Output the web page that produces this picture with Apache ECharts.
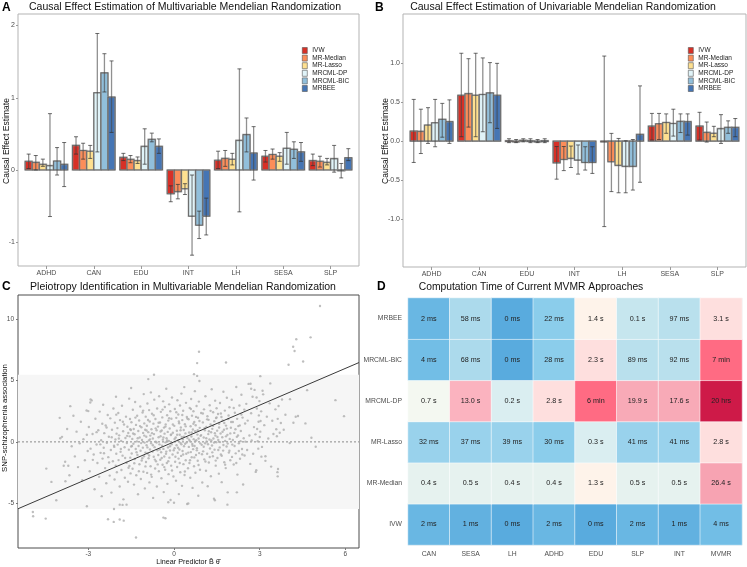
<!DOCTYPE html>
<html><head><meta charset="utf-8">
<script src="https://cdn.jsdelivr.net/npm/echarts@6/dist/echarts.min.js"></script>
<style>html,body{margin:0;padding:0;background:#fff}#c{width:747px;height:567px}</style>
</head><body><div id="c"></div>
<script>
// ---------------- DATA ----------------
const methods = ['IVW','MR-Median','MR-Lasso','MRCML-DP','MRCML-BIC','MRBEE'];
const methodColors = ['#D73027','#FC8D59','#FEE090','#E0F3F8','#91BFDB','#4575B4'];
const traits = ['ADHD','CAN','EDU','INT','LH','SESA','SLP'];

// Panel A: multivariable MR (rows = methods, cols = traits)
const mvEst = [
  [0.12, 0.34, 0.175, -0.33, 0.135, 0.19, 0.13],
  [0.105, 0.27, 0.147, -0.30, 0.16, 0.215, 0.12],
  [0.078, 0.26, 0.13, -0.26, 0.148, 0.19, 0.105],
  [0.06, 1.07, 0.327, -0.64, 0.41, 0.30, 0.157],
  [0.124, 1.345, 0.424, -0.765, 0.49, 0.286, -0.01],
  [0.078, 1.01, 0.327, -0.64, 0.235, 0.25, 0.17]
];
const mvLow = [
  [0.02, 0.22, 0.13, -0.44, 0.02, 0.11, 0.06],
  [0.0, 0.15, 0.10, -0.40, 0.05, 0.15, 0.04],
  [0.05, 0.16, 0.09, -0.34, 0.07, 0.12, 0.07],
  [-0.645, 0.25, 0.08, -1.18, -0.58, 0.08, -0.03],
  [-0.07, 1.08, 0.39, -0.95, 0.25, 0.16, -0.11],
  [-0.23, 0.52, 0.23, -0.90, -0.14, 0.12, 0.13]
];
const mvHigh = [
  [0.22, 0.46, 0.23, -0.22, 0.26, 0.27, 0.22],
  [0.20, 0.37, 0.20, -0.20, 0.27, 0.29, 0.19],
  [0.15, 0.34, 0.18, -0.19, 0.23, 0.24, 0.16],
  [0.78, 1.89, 0.57, -0.07, 1.40, 0.52, 0.34],
  [0.31, 1.61, 0.51, -0.57, 0.72, 0.39, 0.09],
  [0.38, 1.51, 0.43, -0.39, 0.60, 0.38, 0.295]
];

// Panel B: univariable MR
const uvEst = [
  [0.129, 0.59, 0.005, -0.28, -0.005, 0.193, 0.193],
  [0.125, 0.61, 0.0, -0.236, -0.266, 0.223, 0.112],
  [0.206, 0.59, 0.01, -0.223, -0.313, 0.24, 0.10],
  [0.236, 0.60, 0.005, -0.245, -0.326, 0.227, 0.16],
  [0.28, 0.62, 0.0, -0.275, -0.326, 0.253, 0.176],
  [0.25, 0.59, 0.005, -0.275, 0.086, 0.25, 0.176]
];
const uvLow = [
  [-0.275, 0.056, -0.02, -0.49, -1.10, 0.013, 0.013],
  [-0.16, 0.18, -0.02, -0.38, -0.65, 0.02, -0.013],
  [-0.03, 0.056, -0.01, -0.34, -0.665, 0.10, 0.056],
  [-0.073, 0.12, -0.02, -0.425, -0.665, 0.064, -0.03],
  [0.05, 0.236, -0.02, -0.373, -0.63, 0.11, 0.10],
  [-0.03, 0.163, -0.02, -0.416, -0.53, 0.077, 0.056]
];
const uvHigh = [
  [0.536, 1.13, 0.03, -0.07, 1.094, 0.356, 0.37],
  [0.41, 1.06, 0.02, -0.07, 0.099, 0.356, 0.245],
  [0.43, 1.13, 0.03, -0.064, 0.034, 0.35, 0.19],
  [0.536, 1.07, 0.03, -0.05, 0.004, 0.41, 0.34],
  [0.485, 1.01, 0.02, -0.073, 0.02, 0.35, 0.26],
  [0.53, 1.0, 0.03, -0.073, 0.71, 0.35, 0.29]
];

// Panel C: SNP-level pleiotropy scatter (linear predictor, SNP-schizophrenia association)
const pleioPoints = [
[-3.92,0.41],[-3.81,-1.62],[-3.74,1.05],[-3.66,-2.71],[-3.58,-0.35],[-3.52,2.12],
[-3.47,-1.18],[-3.41,0.83],[-3.36,-2.05],[-3.3,-0.12],[-3.26,1.64],[-3.21,-3.12],[-3.17,0.22],[-3.12,-1.49],[-3.06,2.55],[-3.02,-0.74],
[-2.98,1.21],[-2.95,-2.38],[-2.92,-0.55],[-2.88,3.37],[-2.85,0.64],[-2.81,-1.02],[-2.78,-3.85],[-2.75,1.88],[-2.71,-0.21],[-2.68,-1.71],[-2.65,0.95],[-2.62,-2.84],[-2.6,2.46],[-2.57,-0.89],[-2.55,0.13],[-2.53,-4.41],[-2.51,1.47],[-2.5,-1.36],
[-2.48,3.02],[-2.46,-0.48],[-2.44,0.71],[-2.41,-2.13],[-2.39,1.33],[-2.37,-3.36],[-2.35,-0.07],[-2.32,2.18],[-2.3,-1.24],[-2.28,0.42],[-2.25,-2.74],[-2.23,1.91],[-2.21,-0.66],[-2.19,-4.12],[-2.17,0.98],[-2.14,-1.57],[-2.12,2.71],[-2.1,-0.31],[-2.08,-3.05],[-2.07,1.56],[-2.05,0.19],[-2.04,-1.93],[-2.03,3.66],[-2.02,-0.97],[-2.01,0.67],[-2.0,-2.47],
[-1.98,1.12],[-1.97,-0.22],[-1.95,2.34],[-1.94,-1.48],[-1.92,0.53],[-1.9,-3.62],[-1.89,1.77],[-1.87,-0.81],[-1.85,0.08],[-1.84,-2.29],[-1.82,2.93],[-1.8,-1.12],[-1.78,0.86],[-1.77,-4.67],[-1.75,1.41],[-1.73,-0.44],[-1.72,-2.91],[-1.7,0.31],[-1.68,2.05],[-1.66,-1.7],[-1.65,-0.09],[-1.63,1.23],[-1.61,-3.24],[-1.6,0.72],[-1.58,-0.63],[-1.57,3.51],[-1.56,-1.95],[-1.55,0.45],[-1.54,1.86],[-1.53,-1.28],[-1.52,-2.56],[-1.51,0.97],[-1.5,-0.37],[-1.5,4.38],
[-1.49,1.6],[-1.48,-0.94],[-1.46,0.24],[-1.45,-2.18],[-1.44,2.61],[-1.42,-0.15],[-1.41,1.05],[-1.4,-3.47],[-1.38,0.62],[-1.37,-1.39],[-1.36,3.24],[-1.34,-0.58],[-1.33,1.38],[-1.32,-2.71],[-1.3,0.04],[-1.29,2.12],[-1.28,-1.06],[-1.26,-4.26],[-1.25,0.88],[-1.24,-0.33],[-1.22,1.74],[-1.21,-1.82],[-1.2,0.36],[-1.18,2.87],[-1.17,-0.72],[-1.16,-3.01],[-1.14,1.19],[-1.13,-1.51],[-1.12,0.15],[-1.1,2.39],[-1.09,-0.47],[-1.08,0.73],[-1.07,-2.43],[-1.06,3.88],[-1.05,-1.17],[-1.04,1.5],[-1.03,-0.06],[-1.02,-3.78],[-1.01,0.98],[-1.0,-0.87],
[-0.99,2.05],[-0.98,-1.64],[-0.97,0.42],[-0.96,-0.28],[-0.95,1.31],[-0.94,-2.52],[-0.93,3.12],[-0.92,-0.95],[-0.9,0.79],[-0.89,-1.33],[-0.88,0.11],[-0.87,2.58],[-0.86,-3.29],[-0.85,1.66],[-0.84,-0.61],[-0.83,0.51],[-0.82,-1.98],[-0.81,4.02],[-0.8,-0.12],[-0.79,1.02],[-0.78,-2.84],[-0.77,2.29],[-0.75,-0.79],[-0.74,0.27],[-0.73,-4.55],[-0.72,1.48],[-0.71,-1.21],[-0.7,0.63],[-0.69,3.43],[-0.68,-0.43],[-0.66,-2.16],[-0.65,1.86],[-0.64,0.02],[-0.63,-1.57],[-0.61,0.94],[-0.6,-3.63],[-0.59,2.71],[-0.58,-0.68],[-0.56,1.24],[-0.55,-1.07],[-0.54,0.38],[-0.53,-2.39],[-0.52,3.7],[-0.51,-0.2],
[-0.49,1.57],[-0.48,-1.45],[-0.47,0.46],[-0.46,2.44],[-0.45,-0.84],[-0.44,-2.95],[-0.43,0.93],[-0.42,-0.31],[-0.41,1.99],[-0.4,-1.86],[-0.39,0.18],[-0.38,3.29],[-0.37,-0.57],[-0.36,-4.08],[-0.35,1.16],[-0.34,-1.19],[-0.33,0.67],[-0.32,2.83],[-0.31,-2.27],[-0.3,-0.04],[-0.29,1.42],[-0.28,-0.96],[-0.27,4.31],[-0.26,0.29],[-0.25,-1.71],[-0.24,2.16],[-0.23,-3.41],[-0.22,0.81],[-0.21,-0.45],[-0.2,1.73],[-0.19,-2.62],[-0.18,0.07],[-0.17,3.05],[-0.16,-1.28],[-0.15,1.09],[-0.14,-0.7],[-0.13,2.49],[-0.12,-4.72],[-0.11,0.55],[-0.1,-1.93],[-0.09,1.88],[-0.08,-0.19],[-0.07,3.61],[-0.05,-1.03],[-0.04,0.74],[-0.02,-2.81],
[0.01,1.3],[0.02,-0.51],[0.03,2.67],[0.04,-1.62],[0.06,0.36],[0.07,-3.15],[0.08,1.95],[0.09,-0.27],[0.1,0.9],[0.11,-2.04],[0.12,3.38],[0.13,-0.88],[0.14,0.12],[0.15,2.22],[0.16,-1.36],[0.17,-4.24],[0.18,1.51],[0.19,-0.62],[0.2,0.58],[0.21,2.95],[0.22,-2.47],[0.23,-0.09],[0.24,1.17],[0.25,-1.14],[0.26,3.92],[0.27,0.41],[0.28,-3.57],[0.29,1.77],[0.3,-0.74],[0.31,0.2],[0.32,2.53],[0.33,-1.81],[0.34,0.97],[0.35,-0.36],[0.36,4.45],[0.37,-2.69],[0.38,1.43],[0.39,-0.15],[0.4,0.69],[0.41,-1.49],[0.42,3.17],[0.43,-0.97],[0.45,2.02],[0.46,-5.05],[0.47,0.31],[0.49,-2.14],
[0.51,1.84],[0.52,-0.41],[0.53,0.76],[0.54,-1.71],[0.55,2.76],[0.56,0.05],[0.57,-2.92],[0.58,1.27],[0.59,-0.83],[0.6,3.48],[0.61,0.44],[0.62,-1.25],[0.63,2.13],[0.64,-0.17],[0.65,-3.74],[0.66,1.01],[0.67,-0.59],[0.68,2.49],[0.69,0.22],[0.7,-1.98],[0.71,1.62],[0.72,-0.33],[0.73,4.12],[0.74,0.87],[0.75,-2.51],[0.76,1.35],[0.77,-1.06],[0.78,0.13],[0.79,2.91],[0.8,-0.69],[0.81,5.36],[0.82,0.59],[0.83,-1.53],[0.84,1.96],[0.85,-4.38],[0.86,0.28],[0.87,3.27],[0.88,-0.91],[0.9,1.14],[0.91,-2.27],[0.93,0.49],[0.95,2.35],[0.97,-0.24],[0.99,-3.3],
[1.01,1.58],[1.02,-0.77],[1.04,0.35],[1.05,2.64],[1.06,-1.42],[1.08,0.95],[1.09,-0.11],[1.1,3.71],[1.12,-2.35],[1.13,1.22],[1.14,0.04],[1.16,-0.96],[1.17,2.08],[1.18,-3.61],[1.2,0.63],[1.21,1.79],[1.22,-1.68],[1.24,0.19],[1.25,2.97],[1.26,-0.54],[1.28,1.41],[1.29,-2.79],[1.3,0.78],[1.32,4.28],[1.33,-0.29],[1.34,1.06],[1.36,-1.17],[1.37,2.41],[1.38,0.27],[1.4,-4.62],[1.41,1.67],[1.42,-0.63],[1.44,3.35],[1.45,0.51],[1.46,-1.93],[1.47,1.93],[1.48,-0.03],[1.49,2.73],
[1.51,0.91],[1.52,-1.31],[1.54,2.26],[1.55,0.16],[1.57,-2.58],[1.58,1.47],[1.6,-0.45],[1.61,3.16],[1.63,0.68],[1.64,-1.02],[1.66,2.02],[1.67,-3.27],[1.69,0.37],[1.7,1.74],[1.72,-0.71],[1.73,4.07],[1.75,0.99],[1.76,-1.66],[1.78,2.54],[1.79,0.08],[1.81,-2.13],[1.82,1.32],[1.84,-0.38],[1.85,3.58],[1.87,0.57],[1.88,-4.1],[1.9,1.86],[1.92,-0.87],[1.94,2.81],[1.95,0.24],[1.97,-1.49],[1.99,1.15],
[2.02,3.42],[2.04,-0.22],[2.06,1.61],[2.09,-1.84],[2.11,0.73],[2.13,2.37],[2.16,-0.93],[2.18,4.46],[2.2,0.41],[2.22,-2.66],[2.25,1.28],[2.27,-0.12],[2.29,2.95],[2.31,-1.37],[2.34,0.88],[2.36,3.83],[2.38,-0.58],[2.4,1.97],[2.42,-3.46],[2.44,0.3],[2.46,2.62],[2.47,-1.11],[2.49,1.49],[2.5,0.02],
[2.53,3.09],[2.56,-0.66],[2.58,1.73],[2.61,4.71],[2.64,0.52],[2.67,-1.79],[2.7,2.33],[2.72,0.11],[2.75,3.67],[2.77,-0.97],[2.8,1.2],[2.82,4.22],[2.85,0.61],[2.88,-2.31],[2.9,2.71],[2.93,0.05],[2.96,1.63],[2.99,3.31],
[2.91,1.05],[2.95,-0.55],[2.97,2.15],[3.0,0.4],[3.03,1.7],[3.06,-1.2],[2.89,3.6],[3.1,4.15],
[3.02,0.83],[3.05,2.48],[3.08,-0.41],[3.12,3.86],[3.16,1.36],[3.2,-1.17],[3.25,2.05],[3.3,0.27],[3.35,3.13],[3.4,-2.01],[3.44,1.72],[3.48,0.64],
[3.55,2.64],[3.58,1.02],[3.6,0.46],[3.63,1.87],[3.66,2.91],[3.7,0.74],[3.74,1.53],[3.78,3.44],[3.84,0.98],[3.9,2.2],
[-1.93,0.27],[-1.86,-0.58],[-1.79,1.64],[-1.71,-1.31],[-1.64,0.49],[-1.59,-2.1],[-1.53,1.02],[-1.47,-0.33],[-1.43,0.68],[-1.39,-1.74],[-1.35,1.97],[-1.31,-0.84],[-1.27,0.29],[-1.23,-2.38],[-1.19,1.28],[-1.15,-0.1],[-1.11,-1.33],[-1.08,2.54],[-1.04,0.51],[-1.0,-1.99],
[-0.96,0.92],[-0.93,-0.45],[-0.91,1.78],[-0.87,-1.11],[-0.84,0.2],[-0.8,-2.66],[-0.77,0.71],[-0.74,-0.27],[-0.71,2.16],[-0.67,-1.44],[-0.64,1.1],[-0.61,-0.05],[-0.57,-1.83],[-0.54,1.55],[-0.5,-0.61],[-0.47,0.84],[-0.43,-1.31],[-0.4,2.62],[-0.37,0.36],[-0.34,-2.05],[-0.3,1.24],[-0.27,-0.79],[-0.24,0.12],[-0.2,-1.57],[-0.17,1.92],[-0.14,-0.36],[-0.1,0.61],[-0.07,-2.32],[-0.04,1.41],[-0.01,-0.68],
[0.02,0.23],[0.05,-1.21],[0.08,2.41],[0.11,0.58],[0.14,-0.48],[0.17,1.66],[0.2,-1.72],[0.23,0.95],[0.26,-0.2],[0.29,2.18],[0.32,-1.03],[0.35,0.43],[0.38,-2.41],[0.41,1.26],[0.44,-0.06],[0.47,1.89],[0.5,-0.87],[0.53,0.17],[0.56,-1.49],[0.59,2.67],
[0.62,0.76],[0.65,-0.31],[0.68,1.47],[0.71,-1.26],[0.74,0.06],[0.77,2.03],[0.8,-0.52],[0.83,0.94],[0.86,-1.88],[0.89,1.69],[0.92,-0.12],[0.95,0.55],[0.98,-1.01],[1.01,2.31],[1.04,-0.4],[1.07,1.12],[1.1,-1.6],[1.13,0.3],[1.16,1.83],[1.19,-0.19],
[1.22,0.86],[1.25,-1.23],[1.28,2.52],[1.31,0.11],[1.34,-0.85],[1.37,1.31],[1.4,-0.06],[1.43,0.71],[1.46,-1.52],[1.49,1.98],[1.52,0.39],[1.55,-0.66],[1.58,1.17],[1.61,-0.02],[1.64,2.3],[1.67,-1.13],[1.7,0.82],[1.73,-0.25],[1.76,1.53],[1.79,-1.85],
[1.82,0.45],[1.85,1.08],[1.88,-0.14],[1.91,2.14],[1.94,-0.72],[1.97,0.69],[2.0,1.62],[2.03,-1.22],[2.06,0.15],[2.09,2.75],[2.12,-0.33],[2.15,1.03],[2.18,-1.71],[2.21,1.87],[2.24,0.52],[2.27,-0.74],[2.3,1.34],[2.33,0.06],[2.36,2.22],[2.39,-1.02],
[-2.45,-0.92],[-2.36,1.17],[-2.27,-1.68],[-2.18,0.37],[-2.09,-0.41],[-2.02,2.21],[-2.58,-0.2],[-2.71,0.79],[-2.84,-1.46],[-3.05,0.58],
[5.11,11.04],[4.78,8.49],[4.28,8.33],[4.17,7.73],[4.22,7.38],[4.52,6.53],[4.01,6.26],[5.65,3.39],[5.95,2.09],[4.66,4.2],[4.06,3.47],[4.26,2.04],[4.18,1.55],[4.81,0.33],[4.96,-0.4],[3.62,-2.46],[3.63,-2.8],[3.2,-1.54],[2.86,-2.44],[3.37,4.75],[3.02,5.34],[2.68,4.72],[2.7,4.32],[0.875,7.32],[0.81,6.4],[1.82,6.45],[-0.7,5.45],[-0.9,5.1],[0.7,5.5],[0.89,4.95],[-0.37,-6.15],[-1.33,-7.77],[0.5,-5.0],[1.43,-4.74],[1.87,-5.1],[2.2,-4.1],[-0.2,-4.9],[0.0,-4.95],[-2.92,3.45],[-2.93,3.2],[-3.63,2.9],[-4.0,1.95],[-3.0,2.5],[-4.47,-2.17],[-4.29,-3.25],[-4.12,-4.74],[-4.94,-5.69],[-4.93,-6.04],[-4.49,-6.23],[-3.05,-5.23],[-2.31,-6.28],[-2.11,-6.5],[-1.9,-6.3],[-1.76,-6.4],[-2.1,-5.45],[-1.9,-5.1],[-1.8,-5.12],[-3.98,0.3],[-3.86,-1.94],[-3.7,-1.94],[-3.8,-3.2],[3.64,-2.2],[4.05,-0.1],[4.34,2.1],[-0.3,-6.2],[-1.66,-5.1],[4.6,1.5]
];
const fitIntercept = 0.0;
const fitSlope = 0.995;
const bandLimit = 5.45;
const cTicksX = [-3, 0, 3, 6];
const cTicksY = [-5, 0, 5, 10];

// Panel D: computation time heatmap
const dCols = ['CAN','SESA','LH','ADHD','EDU','SLP','INT','MVMR'];
const dRows = ['IVW','MR-Median','MR-Lasso','MRCML-DP','MRCML-BIC','MRBEE']; // bottom to top
const timeLabels = [
  ['2 ms','1 ms','0 ms','2 ms','0 ms','2 ms','1 ms','4 ms'],
  ['0.4 s','0.5 s','0.4 s','0.4 s','1.3 s','0.5 s','0.5 s','26.4 s'],
  ['32 ms','37 ms','39 ms','30 ms','0.3 s','41 ms','41 ms','2.8 s'],
  ['0.7 s','13.0 s','0.2 s','2.8 s','6 min','19.9 s','17.6 s','20 hrs'],
  ['4 ms','68 ms','0 ms','28 ms','2.3 s','89 ms','92 ms','7 min'],
  ['2 ms','58 ms','0 ms','22 ms','1.4 s','0.1 s','97 ms','3.1 s']
];
const aTicksY = [-1, 0, 1, 2];
const bTicksY = [-1, -0.5, 0, 0.5, 1];

// ---------------- CHART ----------------
const FONT = 'Liberation Sans, Arial, sans-serif';
const chart = echarts.init(document.getElementById('c'));
const barW = 0.15;
const catTicks = traits.map((t, i) => i + 1);
const groupX = (i, j) => i + 1 + (j - 2.5) * barW;

function barSeries(gi, est) {
  return methods.map((m, j) => ({
    type: 'custom', name: m, xAxisIndex: gi, yAxisIndex: gi, z: 2,
    itemStyle: { color: methodColors[j] },
    data: traits.map((t, i) => [groupX(i, j), est[j][i]]),
    encode: { x: 0, y: 1 },
    renderItem(params, api) {
      const x = api.value(0), v = api.value(1);
      const a = api.coord([x - barW / 2, 0]), b = api.coord([x + barW / 2, v]);
      const shape = { x: a[0], y: Math.min(a[1], b[1]), width: b[0] - a[0], height: Math.max(Math.abs(b[1] - a[1]), 0.8) };
      return { type: 'group', children: [
        { type: 'rect', shape, style: { fill: methodColors[j], stroke: 'rgba(150,150,150,0.85)', lineWidth: 1.6 } },
        { type: 'rect', shape, style: { fill: null, stroke: '#4a4a4a', lineWidth: 0.6 } }
      ] };
    }
  }));
}
function errSeries(gi, lo, hi) {
  const data = [];
  methods.forEach((m, j) => traits.forEach((t, i) => data.push([groupX(i, j), lo[j][i], hi[j][i]])));
  return {
    type: 'custom', xAxisIndex: gi, yAxisIndex: gi, z: 5, silent: true, data,
    encode: { x: 0, y: [1, 2] },
    renderItem(params, api) {
      const x = api.value(0);
      const p1 = api.coord([x, api.value(1)]), p2 = api.coord([x, api.value(2)]);
      const c = 2;
      const cap = { stroke: 'rgba(50,50,50,0.8)', lineWidth: 0.9 };
      return { type: 'group', children: [
        { type: 'line', shape: { x1: p1[0], y1: p1[1], x2: p2[0], y2: p2[1] }, style: { stroke: 'rgba(70,70,70,0.6)', lineWidth: 1.3 } },
        { type: 'line', shape: { x1: p1[0] - c, y1: p1[1], x2: p1[0] + c, y2: p1[1] }, style: cap },
        { type: 'line', shape: { x1: p2[0] - c, y1: p2[1], x2: p2[0] + c, y2: p2[1] }, style: cap }
      ] };
    }
  };
}

const tickLabel = { fontSize: 7, color: '#4d4d4d', fontFamily: FONT };
const noLine = { show: false, onZero: false };
function barXAxis(gi) {
  return {
    type: 'value', gridIndex: gi, min: 0.4, max: 7.6,
    axisLine: noLine, splitLine: { show: false },
    axisTick: { show: true, length: 3, lineStyle: { color: '#999' }, customValues: catTicks },
    axisLabel: { ...tickLabel, margin: 4, customValues: catTicks, formatter: v => traits[Math.round(v) - 1] || '' }
  };
}
function barYAxis(gi, min, max, ticks, fmt) {
  return {
    type: 'value', gridIndex: gi, min, max,
    axisLine: noLine, splitLine: { show: false },
    axisTick: { show: true, length: 2, lineStyle: { color: '#999' }, customValues: ticks },
    axisLabel: { ...tickLabel, margin: 3, customValues: ticks, formatter: fmt }
  };
}

const cxMin = -5.46, cxMax = 6.475;
const toSec = s => { const [n, u] = s.split(' '); return parseFloat(n) * ({ ms: 0.001, s: 1, min: 60, hrs: 3600 })[u]; };
const heatData = [];
dRows.forEach((r, ri) => dCols.forEach((c, ci) => {
  const lab = timeLabels[ri][ci];
  heatData.push([ci, ri, Math.log10(Math.max(toSec(lab), 0.0003)), lab]);
}));

const series = [
  ...barSeries(0, mvEst), errSeries(0, mvLow, mvHigh),
  ...barSeries(1, uvEst), errSeries(1, uvLow, uvHigh),
  {
    // shaded band |association| < bandLimit
    type: 'custom', xAxisIndex: 2, yAxisIndex: 2, silent: true, z: 1,
    data: [[cxMin, -bandLimit, cxMax, bandLimit]],
    encode: { x: [0, 2], y: [1, 3] },
    renderItem(params, api) {
      const a = api.coord([api.value(0), api.value(3)]), b = api.coord([api.value(2), api.value(1)]);
      return { type: 'rect', shape: { x: a[0], y: a[1], width: b[0] - a[0], height: b[1] - a[1] }, style: { fill: '#F6F6F6' } };
    }
  },
  {
    type: 'line', xAxisIndex: 2, yAxisIndex: 2, silent: true, symbol: 'none', z: 2,
    lineStyle: { color: '#8a8a8a', type: [2, 2], width: 1 },
    data: [[cxMin, 0], [cxMax, 0]]
  },
  {
    type: 'scatter', xAxisIndex: 2, yAxisIndex: 2, data: pleioPoints, symbolSize: 2.4, silent: true, z: 3,
    itemStyle: { color: '#AEAEAE' }
  },
  {
    type: 'line', xAxisIndex: 2, yAxisIndex: 2, silent: true, symbol: 'none', z: 4,
    lineStyle: { color: '#3a3a3a', width: 1 },
    data: [[cxMin, fitIntercept + fitSlope * cxMin], [cxMax, fitIntercept + fitSlope * cxMax]]
  },
  {
    type: 'heatmap', xAxisIndex: 3, yAxisIndex: 3, data: heatData, silent: true,
    itemStyle: { borderColor: 'rgba(255,255,255,0.55)', borderWidth: 1 },
    label: { show: true, formatter: p => p.data[3], fontSize: 7.2, color: '#222', fontFamily: FONT },
    emphasis: { disabled: true }
  }
];
const heatIndex = series.length - 1;

const legendCommon = {
  data: methods, orient: 'vertical', itemWidth: 5, itemHeight: 6, itemGap: 0.6, icon: 'rect',
  selectedMode: false, padding: 0,
  itemStyle: { borderColor: '#555', borderWidth: 0.6 },
  textStyle: { fontSize: 6.5, color: '#1a1a1a', fontFamily: FONT, lineHeight: 6, padding: [0, 0, 0, 0] }
};

const gtext = (text, x, y, size, opts = {}) => ({
  type: 'text', x, y, z: 100, rotation: opts.rot || 0,
  style: { text, fontSize: size, fontFamily: FONT, fontWeight: opts.bold ? 'bold' : 'normal',
    fill: opts.color || '#111', textAlign: opts.align || 'center', textVerticalAlign: 'middle' }
});

chart.setOption({
  backgroundColor: '#fff',
  animation: false,
  textStyle: { fontFamily: FONT },
  grid: [
    { left: 18, top: 14, width: 341, height: 252, show: true, borderColor: '#B3B3B3', borderWidth: 1, backgroundColor: '#fff' },
    { left: 403, top: 14, width: 343, height: 253, show: true, borderColor: '#B3B3B3', borderWidth: 1, backgroundColor: '#fff' },
    { left: 18, top: 295, width: 341, height: 253, show: true, borderColor: '#4d4d4d', borderWidth: 1, backgroundColor: '#fff' },
    { left: 408, top: 298, width: 334, height: 247 }
  ],
  xAxis: [
    barXAxis(0), barXAxis(1),
    {
      type: 'value', gridIndex: 2, min: cxMin, max: cxMax,
      axisLine: noLine, splitLine: { show: false },
      axisTick: { show: true, length: 2, lineStyle: { color: '#777' }, customValues: cTicksX },
      axisLabel: { ...tickLabel, fontSize: 6.5, margin: 3, customValues: cTicksX }
    },
    {
      type: 'category', gridIndex: 3, data: dCols,
      axisLine: noLine, axisTick: { show: false },
      splitLine: { show: true, lineStyle: { color: '#EDEDED', width: 0.8 } },
      axisLabel: { ...tickLabel, fontSize: 6.8, margin: 6 }
    }
  ],
  yAxis: [
    barYAxis(0, -1.33, 2.16, aTicksY, v => String(v)),
    barYAxis(1, -1.62, 1.635, bTicksY, v => v.toFixed(1)),
    {
      type: 'value', gridIndex: 2, min: -8.62, max: 11.93,
      axisLine: noLine, splitLine: { show: false },
      axisTick: { show: true, length: 2, lineStyle: { color: '#777' }, customValues: cTicksY },
      axisLabel: { ...tickLabel, fontSize: 6.5, margin: 4, customValues: cTicksY }
    },
    {
      type: 'category', gridIndex: 3, data: dRows,
      axisLine: noLine, axisTick: { show: false },
      splitLine: { show: true, lineStyle: { color: '#EDEDED', width: 0.8 } },
      axisLabel: { ...tickLabel, fontSize: 6.8, margin: 6 }
    }
  ],
  legend: [
    { ...legendCommon, left: 302, top: 47 },
    { ...legendCommon, left: 688, top: 47 }
  ],
  visualMap: {
    type: 'piecewise', show: false, seriesIndex: heatIndex, dimension: 2,
    pieces: [
      { lt: -3.2, color: '#59ABDE' },
      { gte: -3.2, lt: -2.85, color: '#62B1E0' },
      { gte: -2.85, lt: -2.55, color: '#69B7E3' },
      { gte: -2.55, lt: -2, color: '#72BEE6' },
      { gte: -2, lt: -1.5, color: '#8BCDEB' },
      { gte: -1.5, lt: -1.3, color: '#99D2EC' },
      { gte: -1.3, lt: -1.1, color: '#ACDAEC' },
      { gte: -1.1, lt: -1.005, color: '#B9E0ED' },
      { gte: -1.005, lt: -0.8, color: '#C6E6EE' },
      { gte: -0.8, lt: -0.45, color: '#DAEEF1' },
      { gte: -0.45, lt: -0.25, color: '#E6F2EF' },
      { gte: -0.25, lt: 0, color: '#F4F8F1' },
      { gte: 0, lt: 0.3, color: '#FEF3EA' },
      { gte: 0.3, lt: 0.9, color: '#FEDFDE' },
      { gte: 0.9, lt: 1.2, color: '#FBB3BF' },
      { gte: 1.2, lt: 1.35, color: '#F8AAB7' },
      { gte: 1.35, lt: 2, color: '#F7A3B2' },
      { gte: 2, lt: 4, color: '#FF6B83' },
      { gte: 4, color: '#CE1A48' }
    ]
  },
  graphic: [
    gtext('A', 2, 8, 12, { bold: true, align: 'left', color: '#000' }),
    gtext('B', 375, 8, 12, { bold: true, align: 'left', color: '#000' }),
    gtext('C', 2, 287, 12, { bold: true, align: 'left', color: '#000' }),
    gtext('D', 377, 287, 12, { bold: true, align: 'left', color: '#000' }),
    gtext('Causal Effect Estimation of Multivariable Mendelian Randomization', 185, 7, 10.5),
    gtext('Causal Effect Estimation of Univariable Mendelian Randomization', 563, 7, 10.5),
    gtext('Pleiotropy Identification in Multivariable Mendelian Randomization', 183, 287, 10.5),
    gtext('Computation Time of Current MVMR Approaches', 531, 287, 10.3),
    gtext('Causal Effect Estimate', 7, 141, 8.5, { rot: Math.PI / 2 }),
    gtext('Causal Effect Estimate', 386, 141, 8.5, { rot: Math.PI / 2 }),
    gtext('SNP-schizophrenia association', 5, 418, 7.8, { rot: Math.PI / 2 }),
    gtext('Linear Predictor B\u0302 \u03B8\u0302', 188, 562, 7.2)
  ],
  series
});
</script></body></html>
